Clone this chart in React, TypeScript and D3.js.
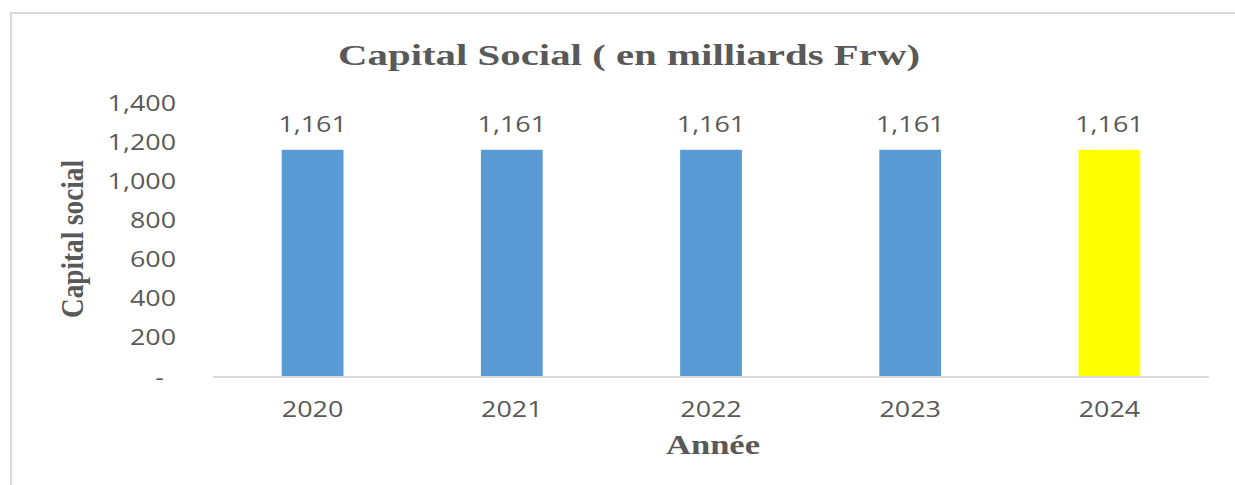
import React from "react";
import * as d3 from "d3";

const years = ["2020", "2021", "2022", "2023", "2024"];
const capital = [1161, 1161, 1161, 1161, 1161];
const barColors = ["#5B9BD5", "#5B9BD5", "#5B9BD5", "#5B9BD5", "#FFFF00"];
const yTicks = [0, 200, 400, 600, 800, 1000, 1200, 1400];
const title = "Capital Social ( en milliards Frw)";
const yLabel = "Capital social";
const xLabel = "Année";

const W = 1235;
const H = 485;
const TEXT = "#595959";
const GRID = "#D9D9D9";
const SX = 1.28;
const NUM_FONT = "'Open Sans', sans-serif";
const SERIF = "'Liberation Serif', 'Times New Roman', serif";

export default function App() {
  const x = d3.scaleBand<string>().domain(years).range([213, 1209]).paddingInner(0.69).paddingOuter(0.345);
  const y = d3.scaleLinear().domain([0, 1400]).range([377, 103]);
  const fmt = d3.format(",");

  return (
    <div style={{ position: "absolute", left: 0, top: 0 }}>
      <svg width={W} height={H} style={{ display: "block", background: "#fff" }}>
        {/* frame */}
        <line x1={11} y1={13} x2={11} y2={H} stroke={GRID} strokeWidth={2} />
        <line x1={10} y1={13} x2={W} y2={13} stroke={GRID} strokeWidth={2} />

        {/* title */}
        <text x={629} y={65} textAnchor="middle" fontFamily={SERIF} fontWeight="bold" fontSize={30}
          fill={TEXT} textLength={582} lengthAdjust="spacingAndGlyphs">{title}</text>

        {/* y tick labels */}
        {yTicks.map((t) => (
          <text key={t} transform={`translate(${t === 0 ? 164 : 176},${y(t) + 7.5}) scale(${SX},1)`}
            textAnchor="end" fontFamily={NUM_FONT} fontSize={21} fill={TEXT}>
            {t === 0 ? "-" : fmt(t)}
          </text>
        ))}

        {/* bars */}
        {years.map((yr, i) => (
          <rect key={yr} x={x(yr)} y={y(capital[i])} width={x.bandwidth()} height={y(0) - y(capital[i])} fill={barColors[i]} />
        ))}

        {/* data labels */}
        {years.map((yr, i) => (
          <text key={"l" + yr} transform={`translate(${(x(yr) as number) + x.bandwidth() / 2},${y(capital[i]) - 18}) scale(${SX},1)`}
            textAnchor="middle" fontFamily={NUM_FONT} fontSize={21} fill={TEXT}>
            {fmt(capital[i])}
          </text>
        ))}

        {/* x axis line */}
        <line x1={213} x2={1209} y1={y(0)} y2={y(0)} stroke={GRID} strokeWidth={2} />

        {/* x tick labels */}
        {years.map((yr) => (
          <text key={"x" + yr} transform={`translate(${(x(yr) as number) + x.bandwidth() / 2},416.5) scale(${SX},1)`}
            textAnchor="middle" fontFamily={NUM_FONT} fontSize={21} fill={TEXT}>
            {yr}
          </text>
        ))}

        {/* x axis title */}
        <text x={713} y={454} textAnchor="middle" fontFamily={SERIF} fontWeight="bold" fontSize={27}
          fill={TEXT} textLength={94} lengthAdjust="spacingAndGlyphs">{xLabel}</text>

        {/* y axis title */}
        <text transform={`translate(83,239) scale(1.2,1) rotate(-90)`} textAnchor="middle" fontFamily={SERIF}
          fontWeight="bold" fontSize={26} fill={TEXT} textLength={158} lengthAdjust="spacingAndGlyphs">{yLabel}</text>
      </svg>
    </div>
  );
}
